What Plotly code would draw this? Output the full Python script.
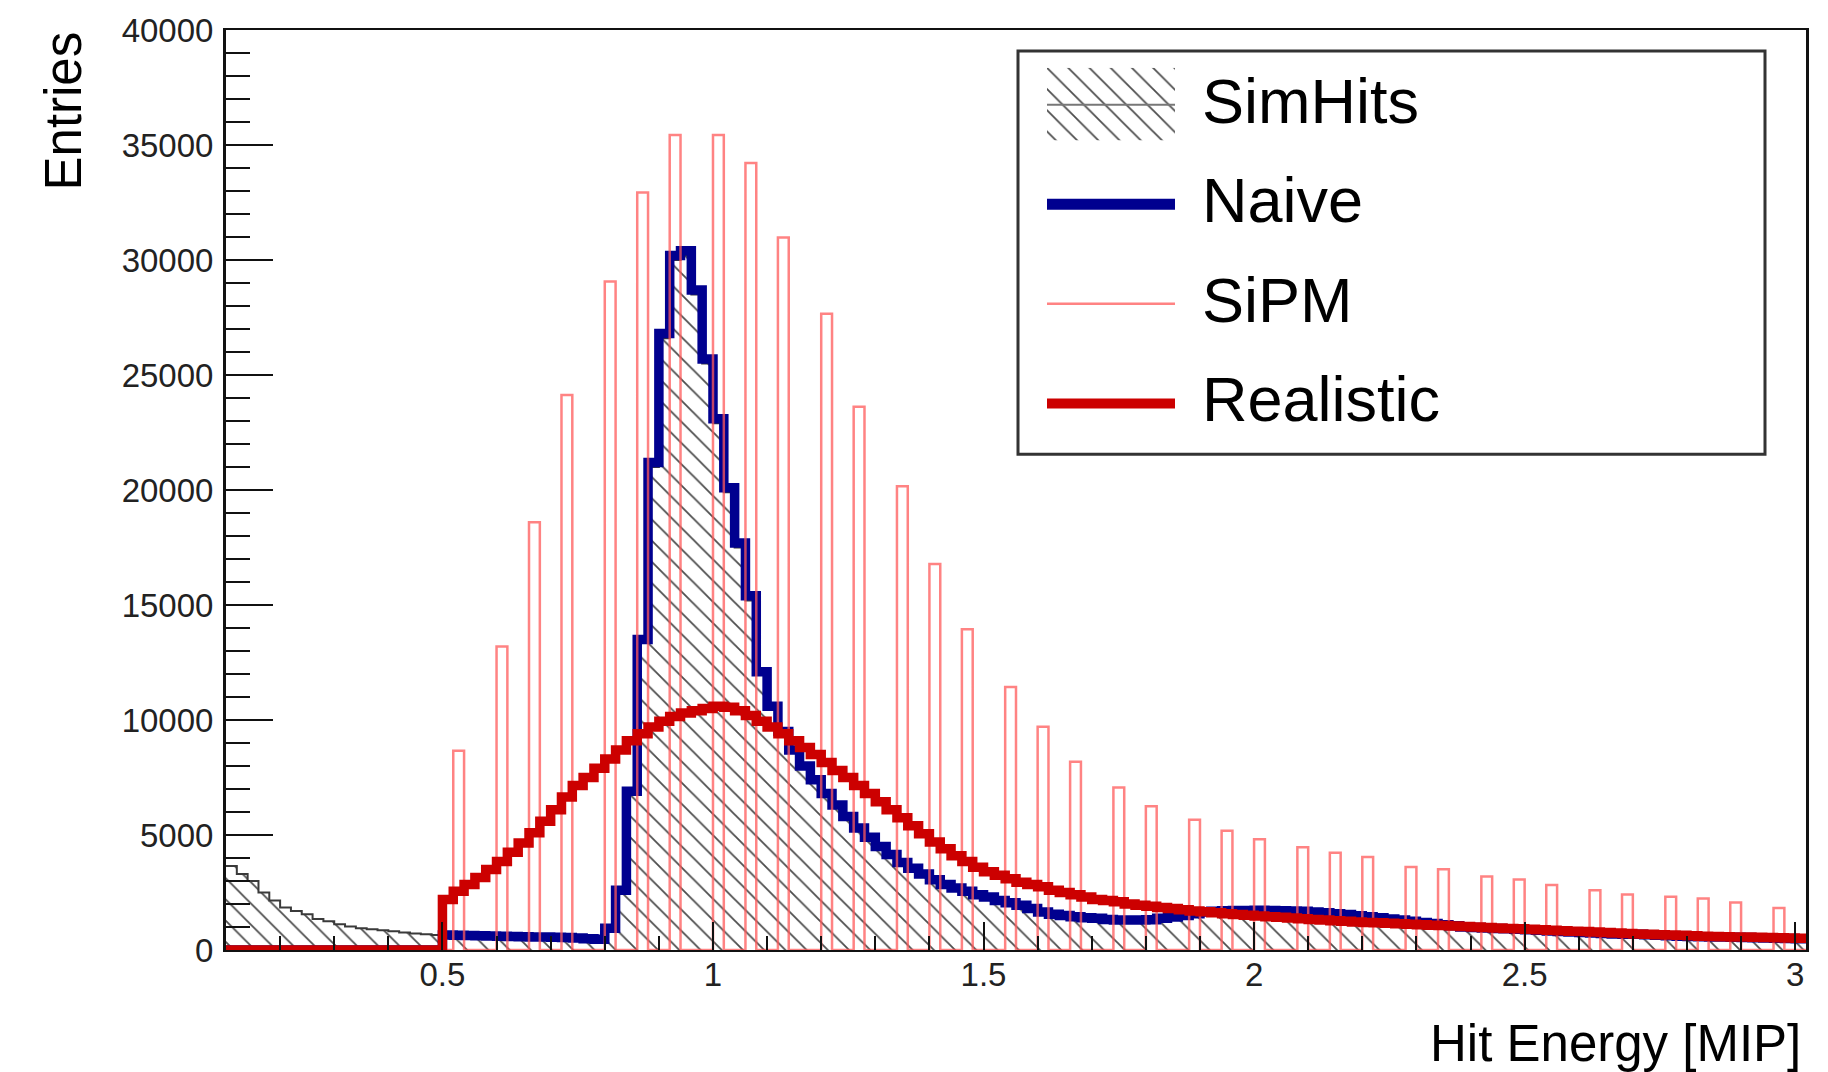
import numpy as np
import plotly.graph_objects as go

# ---------------- data ----------------
bin_width = 0.02
x_low, x_high = 0.10, 3.02
n_bins = 146
bin_edges = np.round(x_low + bin_width * np.arange(n_bins + 1), 2)

# SimHits: 0.10 .. 0.48 (20 bins), then 0.50 .. 3.00 (126 bins)
simhits_low = [3650, 3300, 3000, 2500, 2150, 1850, 1700, 1550, 1350, 1250,
               1120, 1020, 950, 900, 860, 810, 760, 720, 680, 650]
simhits_high = [640, 630, 620, 610, 600, 590, 580, 570, 560, 550,
                540, 530, 510, 480, 460,
                930, 2550, 6800, 13400, 21000, 26600, 30000, 30200, 28500, 25500,
                22900, 19900, 17500, 15200, 12000, 10500, 9400, 8600, 7900, 7300,
                6700, 6200, 5700, 5200, 4800, 4400, 4050, 3700, 3450, 3200,
                2950, 2750, 2600, 2450, 2300, 2200, 2050, 1950, 1850, 1700,
                1550, 1450, 1400, 1350, 1300, 1280, 1230, 1200, 1200, 1200,
                1220, 1280, 1340, 1400, 1500, 1600, 1650, 1680, 1700, 1700,
                1720, 1700, 1700, 1680, 1650, 1600, 1550, 1500, 1460, 1400,
                1350, 1300, 1250, 1200, 1150, 1100, 1050, 1000, 950, 900,
                880, 860, 840, 820, 800, 780, 760, 730, 700, 680,
                660, 640, 620, 600, 590, 580, 560, 540, 520, 500,
                490, 480, 470, 460, 450, 440, 430, 420, 410, 400, 390]
simhits = simhits_low + simhits_high

# Naive: zero below 0.5
naive_low = [0] * 20
naive_high = [650, 640, 630, 620, 610, 600, 590, 580, 570, 560,
              550, 540, 520, 490, 470,
              950, 2600, 6900, 13500, 21200, 26800, 30200, 30400, 28700, 25700,
              23100, 20100, 17700, 15400, 12100, 10600, 9500, 8700, 8000, 7400,
              6800, 6300, 5800, 5300, 4900, 4500, 4150, 3800, 3550, 3300,
              3050, 2850, 2700, 2550, 2400, 2300, 2150, 2050, 1950, 1800,
              1650, 1550, 1500, 1450, 1400, 1380, 1330, 1300, 1300, 1300,
              1320, 1380, 1440, 1500, 1580, 1650, 1690, 1710, 1720, 1720,
              1730, 1720, 1710, 1700, 1680, 1650, 1620, 1580, 1540, 1490,
              1450, 1400, 1350, 1300, 1250, 1200, 1150, 1100, 1050, 1000,
              980, 960, 940, 920, 900, 880, 860, 830, 800, 780,
              760, 740, 720, 700, 690, 680, 660, 640, 620, 600,
              590, 580, 570, 560, 550, 540, 530, 520, 510, 500, 490]
naive = naive_low + naive_high

# Realistic: zero below 0.5
realistic_low = [0] * 20
realistic_high = [2200, 2550, 2850, 3150, 3500, 3850, 4250, 4650, 5100, 5600,
                  6100, 6650, 7150, 7500, 7900, 8300, 8700, 9100, 9400, 9700,
                  9950, 10150, 10300, 10400, 10500, 10600, 10550, 10400, 10200, 9950,
                  9700, 9400, 9100, 8800, 8500, 8150, 7800, 7500, 7150, 6800,
                  6450, 6100, 5750, 5400, 5050, 4700, 4400, 4100, 3850, 3600,
                  3400, 3250, 3100, 2950, 2850, 2750, 2600, 2500, 2400, 2300,
                  2200, 2150, 2100, 2000, 1950, 1900, 1850, 1800, 1750, 1700,
                  1660, 1620, 1580, 1540, 1510, 1480, 1450, 1420, 1390, 1360,
                  1330, 1300, 1270, 1250, 1220, 1200, 1180, 1160, 1140, 1120,
                  1100, 1080, 1060, 1040, 1020, 1000, 980, 960, 940, 920,
                  900, 880, 860, 840, 820, 800, 780, 760, 740, 720,
                  700, 680, 660, 650, 640, 620, 600, 590, 580, 570,
                  560, 550, 540, 530, 520, 510]
realistic = realistic_low + realistic_high

# SiPM: discrete pixel peaks (bin low edge, entries)
sipm_bins = [0.52, 0.60, 0.66, 0.72, 0.80, 0.86, 0.92, 1.00, 1.06, 1.12,
             1.20, 1.26, 1.34, 1.40, 1.46, 1.54, 1.60, 1.66, 1.74, 1.80,
             1.88, 1.94, 2.00, 2.08, 2.14, 2.20, 2.28, 2.34, 2.42, 2.48,
             2.54, 2.62, 2.68, 2.76, 2.82, 2.88, 2.96]
sipm_vals = [8660, 13200, 18600, 24130, 29070, 32930, 35430, 35430, 34220, 30980,
             27660, 23620, 20160, 16780, 13950, 11440, 9710, 8180, 7070, 6250,
             5660, 5190, 4820, 4470, 4230, 4040, 3610, 3510, 3200, 3070,
             2830, 2600, 2410, 2310, 2240, 2060, 1830]

y_ticks = [0, 5000, 10000, 15000, 20000, 25000, 30000, 35000, 40000]
x_ticks = [0.5, 1, 1.5, 2, 2.5, 3]
x_ticktext = ["0.5", "1", "1.5", "2", "2.5", "3"]
legend_names = ["SimHits", "Naive", "SiPM", "Realistic"]

# ---------------- build ----------------
sipm = [0] * n_bins
for b, v in zip(sipm_bins, sipm_vals):
    idx = int(round((b - x_low) / bin_width))
    sipm[idx] = v


def step_xy(vals):
    return list(bin_edges), list(vals) + [vals[-1]]


FONT = "Liberation Sans, Arial, Helvetica, sans-serif"
BLUE = "#00008f"
RED = "#cc0000"
PINK = "rgba(255,90,90,0.75)"
hatch = dict(shape="\\", size=15, solidity=0.12, fgcolor="#4d4d4d",
             bgcolor="rgba(0,0,0,0)", fillmode="replace")

fig = go.Figure()

sx, sy = step_xy(simhits)
fig.add_trace(go.Scatter(x=sx, y=sy, mode="lines", line_shape="hv",
                         line=dict(color="#3a3a3a", width=2),
                         fill="tozeroy", fillcolor="rgba(0,0,0,0)",
                         fillpattern=hatch, name="SimHits",
                         showlegend=False, hoverinfo="skip"))

nx, ny = step_xy(naive)
fig.add_trace(go.Scatter(x=nx, y=ny, mode="lines", line_shape="hv",
                         line=dict(color=BLUE, width=9.5),
                         name="Naive", showlegend=False, hoverinfo="skip"))

px_, py_ = step_xy(sipm)
fig.add_trace(go.Scatter(x=px_, y=py_, mode="lines", line_shape="hv",
                         line=dict(color=PINK, width=2.5),
                         name="SiPM", showlegend=False, hoverinfo="skip"))

rx, ry = step_xy(realistic)
fig.add_trace(go.Scatter(x=rx, y=ry, mode="lines", line_shape="hv",
                         line=dict(color=RED, width=9.5),
                         name="Realistic", showlegend=False, hoverinfo="skip"))

# ---- manual ROOT-style legend ----
W, H = 1828, 1072
L, R, T, B = 226, 22, 26, 122
pw, ph = W - L - R, H - T - B


def pxx(p):
    return (p - L) / pw


def pyy(p):
    return (H - B - p) / ph


# hatched legend swatch on an auxiliary hidden axis
fig.add_trace(go.Scatter(x=[0, 1, 1, 0, 0], y=[0, 0, 1, 1, 0], mode="lines",
                         line=dict(width=0), fill="toself",
                         fillcolor="rgba(0,0,0,0)", fillpattern=hatch,
                         xaxis="x2", yaxis="y2", showlegend=False,
                         hoverinfo="skip"))

shapes = [
    dict(type="rect", xref="paper", yref="paper",
         x0=pxx(1018), x1=pxx(1765), y0=pyy(452), y1=pyy(47),
         line=dict(color="#333333", width=3), fillcolor="white", layer="below"),
    dict(type="line", xref="paper", yref="paper", x0=pxx(1047), x1=pxx(1175),
         y0=pyy(101), y1=pyy(101), line=dict(color="#777777", width=2)),
    dict(type="line", xref="paper", yref="paper", x0=pxx(1047), x1=pxx(1175),
         y0=pyy(201), y1=pyy(201), line=dict(color=BLUE, width=11)),
    dict(type="line", xref="paper", yref="paper", x0=pxx(1047), x1=pxx(1175),
         y0=pyy(301), y1=pyy(301), line=dict(color=PINK, width=2.5)),
    dict(type="line", xref="paper", yref="paper", x0=pxx(1047), x1=pxx(1175),
         y0=pyy(401), y1=pyy(401), line=dict(color=RED, width=10)),
]

annotations = []
for name, yrow in zip(legend_names, [97, 197, 297, 397]):
    annotations.append(dict(text=name, xref="paper", yref="paper",
                            x=pxx(1200), y=pyy(yrow), xanchor="left",
                            yanchor="middle", showarrow=False,
                            font=dict(family=FONT, size=63, color="black")))

annotations.append(dict(text="Entries", xref="paper", yref="paper",
                        x=pxx(63), y=pyy(26), xanchor="center", yanchor="top",
                        textangle=-90, showarrow=False,
                        font=dict(family=FONT, size=51, color="black")))
annotations.append(dict(text="Hit Energy [MIP]", xref="paper", yref="paper",
                        x=pxx(1803), y=pyy(1013), xanchor="right", yanchor="top",
                        showarrow=False,
                        font=dict(family=FONT, size=51, color="black")))

fig.update_layout(
    width=W, height=H,
    margin=dict(l=L, r=R, t=T, b=B, pad=0),
    paper_bgcolor="white", plot_bgcolor="rgba(0,0,0,0)",
    showlegend=False,
    shapes=shapes, annotations=annotations,
    xaxis=dict(range=[x_low, x_high], showgrid=False, zeroline=False,
               showline=True, linecolor="#111111", linewidth=2, mirror=True,
               ticks="inside", tickmode="array", tickvals=x_ticks,
               ticktext=x_ticktext, ticklen=28, tickwidth=2, tickcolor="#111111",
               minor=dict(ticks="inside", dtick=0.1, tick0=0.1, ticklen=14,
                          tickwidth=2, tickcolor="#111111"),
               tickfont=dict(family=FONT, size=33, color="#222222"),
               ticklabelstandoff=-6, layer="above traces"),
    yaxis=dict(range=[0, 40000], showgrid=False, zeroline=False,
               showline=True, linecolor="#111111", linewidth=3, mirror=True,
               ticks="inside", tickmode="array", tickvals=y_ticks,
               ticktext=[str(v) for v in y_ticks], ticklen=47, tickwidth=2,
               tickcolor="#111111",
               minor=dict(ticks="inside", dtick=1000, ticklen=24, tickwidth=2,
                          tickcolor="#111111"),
               tickfont=dict(family=FONT, size=33, color="#222222"),
               ticklabelstandoff=3, layer="above traces"),
    xaxis2=dict(domain=[pxx(1047), pxx(1175)], range=[0, 1], visible=False,
                anchor="y2", fixedrange=True),
    yaxis2=dict(domain=[pyy(137), pyy(64)], range=[0, 1], visible=False,
                anchor="x2", fixedrange=True),
)

fig.write_html("out.html")
